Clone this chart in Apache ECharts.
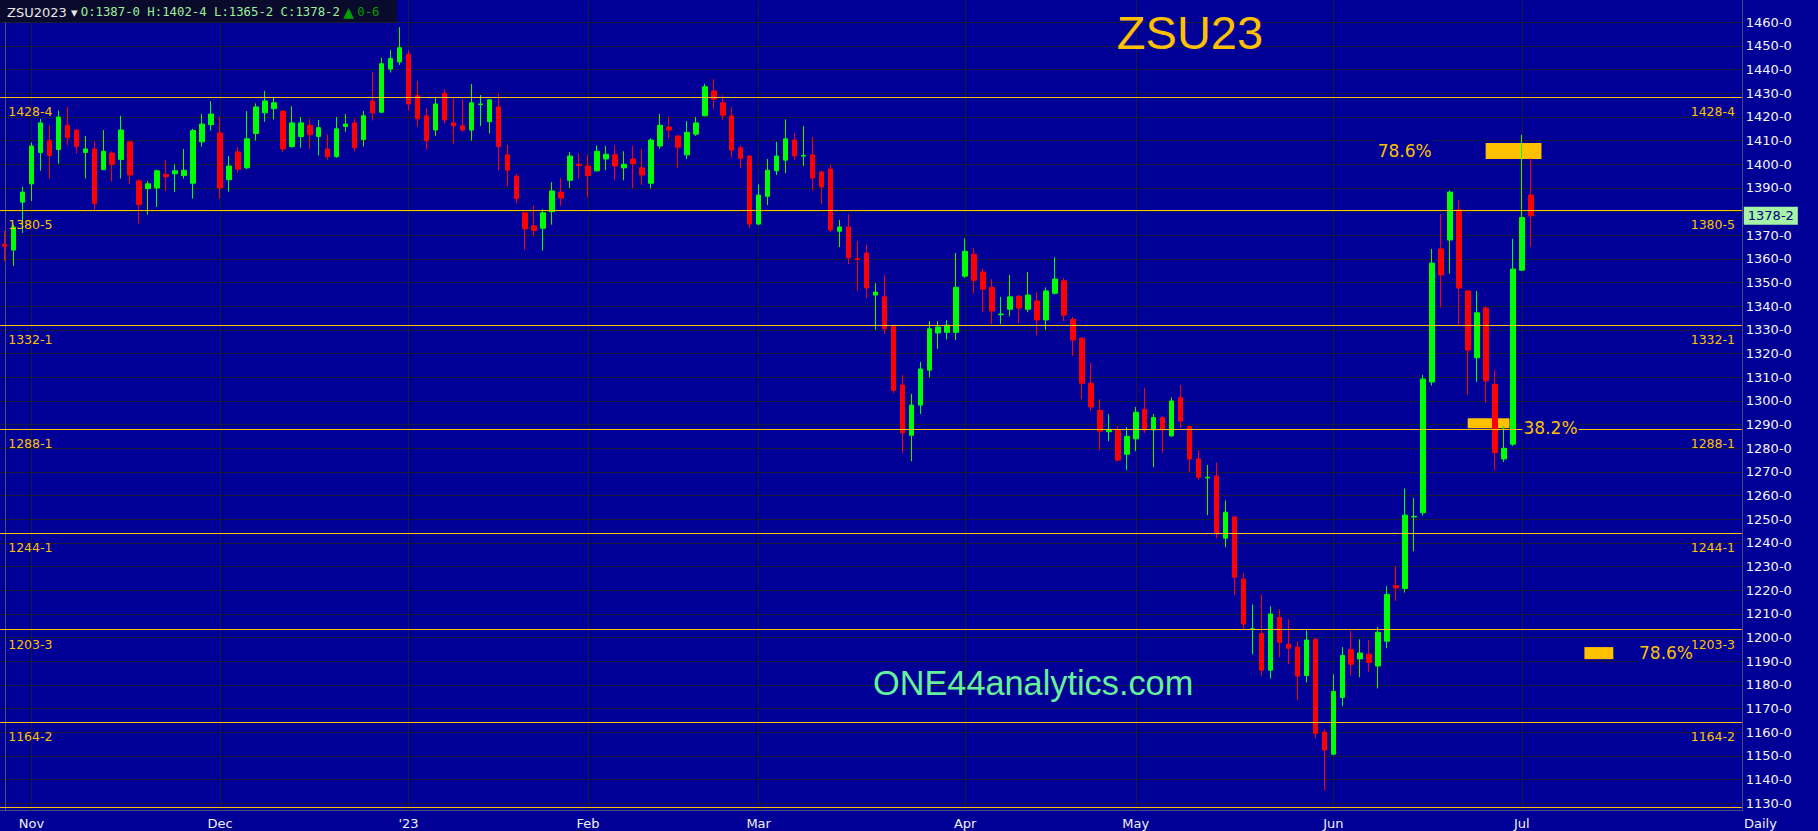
<!DOCTYPE html>
<html><head><meta charset="utf-8">
<script src="https://cdn.jsdelivr.net/npm/echarts@6/dist/echarts.min.js"></script>
<style>html,body{margin:0;padding:0;background:#000096;overflow:hidden}#c{width:1818px;height:831px}</style>
</head><body><div id="c"></div>
<script>
// ---------------- data ----------------
const symbolName = 'ZSU2023';
const chartTitle = 'ZSU23';
const watermark = 'ONE44analytics.com';
const periodLabel = 'Daily';

const dates = [
 '2022-10-27','2022-10-28','2022-10-31',
 '2022-11-01','2022-11-02','2022-11-03','2022-11-04','2022-11-07','2022-11-08','2022-11-09','2022-11-10','2022-11-11','2022-11-14','2022-11-15','2022-11-16','2022-11-17','2022-11-18','2022-11-21','2022-11-22','2022-11-23','2022-11-25','2022-11-28','2022-11-29','2022-11-30',
 '2022-12-01','2022-12-02','2022-12-05','2022-12-06','2022-12-07','2022-12-08','2022-12-09','2022-12-12','2022-12-13','2022-12-14','2022-12-15','2022-12-16','2022-12-19','2022-12-20','2022-12-21','2022-12-22','2022-12-23','2022-12-27','2022-12-28','2022-12-29','2022-12-30',
 '2023-01-03','2023-01-04','2023-01-05','2023-01-06','2023-01-09','2023-01-10','2023-01-11','2023-01-12','2023-01-13','2023-01-17','2023-01-18','2023-01-19','2023-01-20','2023-01-23','2023-01-24','2023-01-25','2023-01-26','2023-01-27','2023-01-30','2023-01-31',
 '2023-02-01','2023-02-02','2023-02-03','2023-02-06','2023-02-07','2023-02-08','2023-02-09','2023-02-10','2023-02-13','2023-02-14','2023-02-15','2023-02-16','2023-02-17','2023-02-21','2023-02-22','2023-02-23','2023-02-24','2023-02-27','2023-02-28',
 '2023-03-01','2023-03-02','2023-03-03','2023-03-06','2023-03-07','2023-03-08','2023-03-09','2023-03-10','2023-03-13','2023-03-14','2023-03-15','2023-03-16','2023-03-17','2023-03-20','2023-03-21','2023-03-22','2023-03-23','2023-03-24','2023-03-27','2023-03-28','2023-03-29','2023-03-30','2023-03-31',
 '2023-04-03','2023-04-04','2023-04-05','2023-04-06','2023-04-10','2023-04-11','2023-04-12','2023-04-13','2023-04-14','2023-04-17','2023-04-18','2023-04-19','2023-04-20','2023-04-21','2023-04-24','2023-04-25','2023-04-26','2023-04-27','2023-04-28',
 '2023-05-01','2023-05-02','2023-05-03','2023-05-04','2023-05-05','2023-05-08','2023-05-09','2023-05-10','2023-05-11','2023-05-12','2023-05-15','2023-05-16','2023-05-17','2023-05-18','2023-05-19','2023-05-22','2023-05-23','2023-05-24','2023-05-25','2023-05-26','2023-05-30','2023-05-31',
 '2023-06-01','2023-06-02','2023-06-05','2023-06-06','2023-06-07','2023-06-08','2023-06-09','2023-06-12','2023-06-13','2023-06-14','2023-06-15','2023-06-16','2023-06-20','2023-06-21','2023-06-22','2023-06-23','2023-06-26','2023-06-27','2023-06-28','2023-06-29','2023-06-30',
 '2023-07-03','2023-07-05'
];

// [open, high, low, close]
const ohlc = [
 [1366.25,1372,1359,1365.25],[1363.75,1374.5,1357,1373.5],[1384,1390.5,1371,1388.25],
 [1391.75,1409.25,1384.5,1407.75],[1405,1419.25,1397.25,1417.5],[1410,1416.5,1394,1403.75],[1406.25,1422.75,1400.25,1420],
 [1416.5,1424.25,1408,1411.25],[1414.5,1414.75,1404.5,1407.5],[1405,1412,1394,1406.5],[1406.5,1409.5,1380.5,1383.5],[1397.75,1414.5,1397.5,1405.5],
 [1404.75,1405.5,1392.75,1400],[1402,1420.5,1394,1414.5],[1409.5,1409.75,1391.75,1395.5],[1393,1393.75,1375,1383],[1389.75,1393,1378.75,1391.75],
 [1390,1397.75,1382,1397.25],[1395.75,1401.75,1388.75,1394.75],[1396,1400,1388.25,1397.25],[1395.25,1406.5,1394,1397.5],
 [1392,1415,1385.5,1414.25],[1409.5,1421.25,1407.5,1417],[1416.75,1426.75,1414.25,1421.25],
 [1413.25,1420,1385.5,1390],[1393.5,1403.5,1388.5,1399.25],
 [1405.25,1407.25,1396.5,1398],[1398.5,1422.5,1398,1410.75],[1413,1425.75,1410,1424.25],[1421.75,1431,1418,1426.75],[1423.5,1428.5,1419,1426],
 [1422.5,1422.75,1405,1406.5],[1407.5,1424.5,1407,1417.5],[1411.75,1420,1407,1417.5],[1416.5,1419.25,1406.5,1412.5],[1411.75,1418.75,1403.75,1415.5],
 [1406.5,1412.75,1402,1403.25],[1403.25,1420,1402.75,1415],[1416,1421.25,1413.75,1417],[1417.5,1419.25,1405.5,1407],[1410.5,1422.5,1407.5,1420.5],
 [1426.75,1439,1418.5,1421.75],[1422,1445,1421.75,1442.5],[1440.25,1448.25,1438.75,1444.75],[1443.25,1458,1442,1449.25],
 [1446.5,1448.25,1422.75,1425.5],[1429,1435.25,1416,1419.25],[1420.5,1423.75,1406.25,1410],[1414.5,1428,1412,1425.5],
 [1430,1431.75,1417.25,1418.75],[1417.5,1428.5,1408.75,1416.25],[1416.25,1427.5,1413.75,1414.5],[1414.5,1434,1410,1426],[1425.25,1429.25,1416.25,1425.5],
 [1418,1427.5,1413,1427.25],[1424.25,1430,1397.5,1407.5],[1404,1408.25,1390.75,1397.5],[1395,1396,1383.5,1385.5],
 [1379.5,1379.75,1363.75,1372.75],[1374,1382.5,1369.75,1372],[1373,1381,1363.5,1379.5],[1380,1392.5,1374.5,1388.75],[1388.25,1394.25,1382.5,1385.75],
 [1393.25,1405.25,1390,1403.5],[1400,1404.75,1394,1399.5],
 [1399.25,1404,1386.25,1395.25],[1397.25,1408,1397,1405.5],[1402.25,1407.75,1397.5,1404.25],
 [1404,1408,1393.25,1399.25],[1398.5,1405.5,1393.25,1400],[1402.25,1407.75,1390,1400.25],[1398.5,1406.5,1391.25,1395.5],[1392,1411,1389.75,1410.25],
 [1407.75,1421.25,1406.5,1416.5],[1415.75,1420,1411,1414.5],[1412,1412.25,1398.5,1407.25],[1404,1418.25,1402.25,1413.5],[1412.75,1420,1412,1417.5],
 [1420.5,1434,1420.25,1432.75],[1431,1436,1423.5,1427.5],[1426,1429.25,1418.75,1420.75],[1420.5,1424.25,1403,1406],
 [1407,1408,1398.5,1402.5],[1403.5,1403.75,1373,1374.75],
 [1374.75,1391.5,1374.25,1387],[1386.5,1402.25,1382.75,1397.5],[1397.25,1409.5,1395.5,1403.5],
 [1401.75,1419,1396.25,1410.75],[1410.25,1413.25,1401.75,1403.5],[1403.5,1416.25,1399.25,1403.75],[1404,1411.5,1389,1394.25],[1396.75,1397.25,1383.25,1390.5],
 [1398,1399.75,1371.25,1372.25],[1371.75,1376.5,1365,1373.5],[1373.5,1379,1357.75,1360.5],[1360.25,1367.5,1346.5,1359.75],[1362.5,1366,1343.5,1347.75],
 [1344.75,1349.75,1330,1346],[1344,1353.25,1328.25,1330.5],[1331.5,1332,1303.25,1304.5],[1306.75,1311,1278,1286.5],[1285.5,1303,1274.5,1298.25],
 [1298.25,1316.5,1294.5,1313.5],[1313,1333.75,1310,1330.5],[1328.75,1333.75,1322,1331.25],[1329,1334.25,1326,1332],[1329,1362.5,1325.75,1348],
 [1352.75,1368.75,1352,1363.25],[1362,1364.5,1345.5,1351],[1354.5,1356,1337.5,1347.25],[1348,1351.5,1332.5,1338],
 [1336.5,1344,1332.5,1336.75],[1338.75,1353.25,1335.75,1344],[1344.25,1344.75,1333,1339.25],[1338.75,1354.5,1337.5,1344.75],[1342.25,1346,1327.75,1334.25],
 [1334.25,1348,1330,1346.5],[1345.5,1360.75,1345,1351.5],[1350.75,1352,1333.75,1336.25],[1334.5,1335.5,1319,1325.75],[1326.5,1327,1300.75,1307.5],
 [1307.5,1316,1295.75,1297.5],[1296,1300.75,1279.25,1287.25],[1287,1294.5,1283,1287.75],[1287.75,1289.25,1274.5,1275],[1277.5,1289,1270.75,1285],
 [1284,1297.5,1278.75,1295.25],[1296.5,1305.5,1286.5,1287.75],[1287.75,1294.5,1272,1293],[1293,1293.5,1278,1287.75],[1285.25,1301.5,1284.75,1300],
 [1301.5,1306.75,1288.5,1291.5],[1289.25,1289.5,1270,1275.5],[1275.5,1279.25,1266.5,1267.75],[1267.5,1273,1251.75,1267.75],[1268.25,1274,1242,1244],
 [1242,1258,1238.25,1253],[1251,1251.25,1218,1225.5],[1224.75,1227.25,1203.5,1205.75],[1203.5,1214,1193,1203.75],[1201.75,1218.25,1184,1186.25],
 [1186.25,1213.25,1182.75,1210],[1208.5,1212,1191.75,1198],[1197.25,1207.75,1188.75,1195.5],[1196,1198.5,1173.5,1183.75],[1184,1203,1181,1199],
 [1199.25,1199.75,1157.5,1159.5],[1160,1161.25,1135.5,1152.5],
 [1150.75,1184.5,1150.25,1177.25],[1174.75,1196,1171,1192.5],
 [1195,1203,1184,1188.75],[1191,1199.25,1183.25,1193.5],[1193,1199,1185.5,1189.5],[1188,1204.5,1178.5,1202.25],[1198.5,1221.75,1195.5,1218.25],
 [1222,1230.25,1215.5,1221],[1220.75,1263,1219,1251.75],[1251,1259,1236.5,1251.25],[1252.75,1311,1251.5,1309.25],[1308,1364.25,1306.5,1358.25],
 [1364.25,1379,1339.5,1353.25],[1368,1389,1353.75,1388.25],[1380.75,1384.75,1331.5,1347.75],[1346.5,1346.75,1302.75,1321.5],
 [1318.25,1346.5,1308,1337.25],[1339.25,1340,1299.25,1308.5],[1307,1313,1270.75,1278.25],[1275.5,1289.5,1274.25,1280],[1281.75,1368.5,1281,1355.75],
 [1355.25,1412.5,1355,1377.5],[1387,1402.5,1365.25,1378.25]
];

const monthStarts = ['2022-11-01','2022-12-01','2023-01-03','2023-02-01','2023-03-01','2023-04-03','2023-05-01','2023-06-01','2023-07-03'];
const monthNames  = ['Nov','Dec',"'23",'Feb','Mar','Apr','May','Jun','Jul'];
const futureSlots = 23;

const levels = [1428.5, 1380.625, 1332.125, 1288.125, 1244.125, 1203.375, 1164.25];
const baseLevel = 1128.25;

const fibLabels = ['78.6%', '38.2%', '78.6%'];
const fibStart  = [164.97, 162.97, 175.97];   // slot index (fractional)
const fibEnd    = [171.19, 167.63, 179.19];
const fibLow    = [1402.25, 1288.5, 1190.9];
const fibHigh   = [1409, 1292.75, 1196];

const yTickMin = 1130, yTickMax = 1460, yTickStep = 10;
const yViewMin = 1126.95, yViewMax = 1469.22;

// ---------------- helpers ----------------
function fmt8(v) {
  const neg = v < 0; v = Math.abs(v);
  let whole = Math.floor(v + 1e-9);
  let e = Math.round((v - whole) * 8);
  if (e === 8) { whole += 1; e = 0; }
  return (neg ? '-' : '') + whole + '-' + e;
}
const categories = dates.slice();
for (let k = 1; k <= futureSlots; k++) categories.push('+' + k);

const last = ohlc[ohlc.length - 1];
const prevClose = ohlc[ohlc.length - 2][3];

const GOLD = '#FFC000';
const BG = '#000096';
const GRIDC = '#1a1a36';
const BORDER = '#4c4c7c';
const FONT = 'DejaVu Sans';
const HIDDEN_LINE = { color: 'rgba(0,0,0,0)', width: 0 };

const levelLines = [];
levels.forEach(v => {
  levelLines.push({ yAxis: v, label: { position: 'insideStartBottom', distance: [8.2, 8] } });
  levelLines.push({ yAxis: v, lineStyle: HIDDEN_LINE, label: { position: 'insideEndBottom', distance: [6.8, 8], opacity: 1 } });
});
levelLines.push({ yAxis: baseLevel, label: { show: false } });
levelLines.push({
  yAxis: last[3], lineStyle: HIDDEN_LINE,
  label: { position: 'end', distance: 2, formatter: fmt8(last[3]), backgroundColor: '#a6f2a6', opacity: 1,
           color: '#000080', padding: [3, 4, 2, 4], fontSize: 13, fontFamily: FONT }
});

function slotX(api, f, v) {
  const i = Math.floor(f);
  const p = api.coord([i, v]);
  const w = api.size([1, 0])[0];
  return p[0] + (f - i) * w;
}
const FIB_TEXT = [ {side: 'left', gap: 53}, {side: 'right', gap: 13}, {side: 'right', gap: 24.7} ];

const chart = echarts.init(document.getElementById('c'), null, { renderer: 'svg', width: 1818, height: 831 });
const option = {
  backgroundColor: BG,
  animation: false,
  grid: [
    { left: -4.2, right: 76.2, top: 0.5, height: 810 },
    { left: -4.2, right: 76.2, top: 22.33, height: 780.95 }
  ],
  xAxis: [
    { type: 'category', gridIndex: 0, data: categories, boundaryGap: true,
      axisLine: { show: true, lineStyle: { color: BORDER, width: 1 } },
      axisTick: { show: false },
      axisLabel: { interval: (i, v) => monthStarts.indexOf(v) >= 0,
                   formatter: v => monthNames[monthStarts.indexOf(v)] || '',
                   color: '#f0f0f0', fontFamily: FONT, fontSize: 13, margin: 6 },
      splitLine: { show: false } },
    { type: 'value', gridIndex: 1, min: 0, max: 1, show: false }
  ],
  yAxis: [
    { type: 'value', gridIndex: 0, position: 'right', min: yViewMin, max: yViewMax, scale: true,
      axisLine: { show: true, lineStyle: { color: BORDER } }, axisTick: { show: false },
      axisLabel: { show: false }, splitLine: { show: false } },
    { type: 'value', gridIndex: 1, position: 'right', min: yTickMin, max: yTickMax, interval: yTickStep,
      axisLine: { show: false }, axisTick: { show: false },
      axisLabel: { formatter: v => (Math.abs(v - last[3]) < 5 ? '' : fmt8(v)),
                   color: '#f4f4f4', fontFamily: FONT, fontSize: 13, margin: 4 },
      splitLine: { show: true, lineStyle: { color: GRIDC, width: 1 } } },
    { type: 'value', gridIndex: 0, position: 'left', offset: -5.7, min: yViewMin, max: yViewMax, scale: true,
      axisLine: { show: true, lineStyle: { color: BORDER } }, axisTick: { show: false },
      axisLabel: { show: false }, splitLine: { show: false } }
  ],
  series: [
    { type: 'custom', name: 'fibZones', xAxisIndex: 0, yAxisIndex: 0, z: 2, clip: false,
      data: fibLabels.map((_, k) => [Math.round(fibStart[k]), fibLow[k]]),
      encode: { x: 0, y: 1 },
      renderItem: (params, api) => {
        const k = params.dataIndex;
        const x0 = slotX(api, fibStart[k], fibLow[k]);
        const x1 = slotX(api, fibEnd[k], fibLow[k]);
        const yLo = api.coord([0, fibLow[k]])[1];
        const yHi = api.coord([0, fibHigh[k]])[1];
        return { type: 'rect', shape: { x: x0, y: yHi, width: x1 - x0, height: yLo - yHi }, style: { fill: GOLD } };
      },
      markLine: { silent: true, symbol: ['none', 'none'], z: 1, animation: false,
        label: { show: false }, lineStyle: { color: GRIDC, width: 1, type: 'solid' },
        data: monthStarts.map(d => ({ xAxis: d })) }
    },
    { type: 'candlestick', name: symbolName, xAxisIndex: 0, yAxisIndex: 0, z: 3,
      data: ohlc.map(r => [r[0], r[3], r[2], r[1]]),
      barWidth: 5,
      itemStyle: { color: '#00ff00', color0: '#ff0000', borderColor: '#00ff00', borderColor0: '#ff0000', borderWidth: 1 },
      markLine: { silent: true, symbol: ['none', 'none'], animation: false,
        lineStyle: { color: GOLD, width: 1.2, type: 'solid' },
        label: { color: GOLD, fontFamily: FONT, fontSize: 12.5, formatter: p => fmt8(p.value) },
        data: levelLines }
    },
    { type: 'custom', name: 'fibText', xAxisIndex: 0, yAxisIndex: 0, z: 8, clip: false,
      data: fibLabels.map((_, k) => [Math.round(fibStart[k]), fibLow[k]]),
      encode: { x: 0, y: 1 },
      renderItem: (params, api) => {
        const k = params.dataIndex;
        const L = FIB_TEXT[k];
        const x0 = slotX(api, fibStart[k], fibLow[k]);
        const x1 = slotX(api, fibEnd[k], fibLow[k]);
        const yMid = k === 1 ? api.coord([0, fibLow[k]])[1]
                             : (api.coord([0, fibLow[k]])[1] + api.coord([0, fibHigh[k]])[1]) / 2;
        return { type: 'text', x: L.side === 'left' ? x0 - L.gap : x1 + L.gap, y: yMid,
          style: { text: fibLabels[k], fill: GOLD, font: '17px "DejaVu Sans"',
                   align: L.side === 'left' ? 'right' : 'left', verticalAlign: 'middle',
                   backgroundColor: BG, padding: [3, 1, 2, 1] } };
      }
    }
  ],
  graphic: [
    { type: 'rect', left: 0, top: 0, z: 20, shape: { width: 397, height: 22 }, style: { fill: '#0a0a2c' } },
    { type: 'text', x: 7, y: 12, z: 21, style: {
        text: '{w|' + symbolName + ' ▾} {g|O:' + fmt8(last[0]) + ' H:' + fmt8(last[1]) + ' L:' + fmt8(last[2]) + ' C:' + fmt8(last[3]) + '} {t|▲} {d|' + fmt8(last[3] - prevClose) + '}',
        verticalAlign: 'middle',
        rich: {
          w: { fill: '#e8e8e8', font: '13px "DejaVu Sans"' },
          g: { fill: '#9cf09c', font: '12.3px "DejaVu Sans Mono"' },
          t: { fill: '#00a000', font: '14px "DejaVu Sans"' },
          d: { fill: '#00a000', font: '12.3px "DejaVu Sans Mono"' }
        } } },
    { type: 'text', x: 1190, y: 32, z: 21, style: { text: chartTitle, fill: GOLD, font: '47px "Liberation Sans"', align: 'center', verticalAlign: 'middle' } },
    { type: 'text', x: 873, y: 683, z: 21, style: { text: watermark, fill: '#66f29a', font: '34.3px "Liberation Sans"', align: 'left', verticalAlign: 'middle' } },
    { type: 'text', x: 1744, y: 823, z: 21, style: { text: periodLabel, fill: '#f0f0f0', font: '13px "DejaVu Sans"', align: 'left', verticalAlign: 'middle' } }
  ]
};
chart.setOption(option);
</script>
</body></html>
